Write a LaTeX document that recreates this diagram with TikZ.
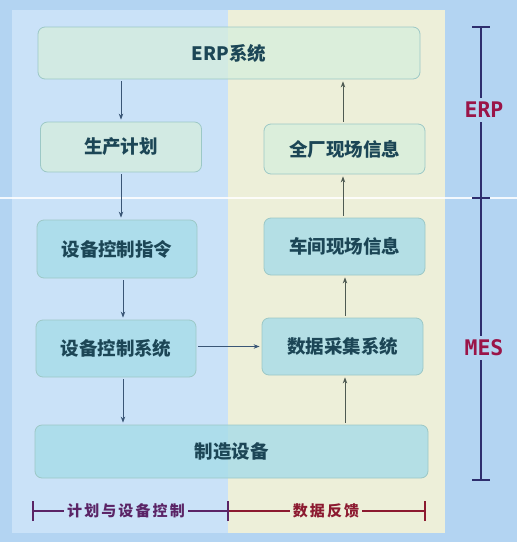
\documentclass[tikz,border=0pt]{standalone}
\usepackage{fontspec}
\newfontfamily\cjk{Noto Sans CJK SC}
\newfontfamily\cjkl{Noto Sans CJK SC}[LetterSpace=14]
\newfontfamily\monob{DejaVu Sans Mono}
\usetikzlibrary{arrows.meta}
\definecolor{outerbg}{HTML}{B3D4F2}
\definecolor{leftbg}{HTML}{CAE2F8}
\definecolor{rightbg}{HTML}{EDEFD9}
\definecolor{topfill}{HTML}{D6EEDC}
\definecolor{lowfill}{HTML}{A6DCE8}
\definecolor{boxline}{HTML}{9CC8C6}
\definecolor{boxtext}{HTML}{1C4656}
\definecolor{arrl}{HTML}{3A5676}
\definecolor{arrr}{HTML}{4E5A52}
\definecolor{navy}{HTML}{2E2E6E}
\definecolor{magred}{HTML}{9A1448}
\definecolor{purp}{HTML}{5A2466}
\definecolor{dred}{HTML}{8C1A30}
\begin{document}
\begin{tikzpicture}[x=1pt,y=-1pt,
  basebox/.style={draw=boxline, line width=0.8pt, rounded corners=7pt, text=boxtext,
    font=\cjk\bfseries\fontsize{18.5}{22}\selectfont, inner sep=0pt},
  topbox/.style={basebox, fill=topfill, fill opacity=0.75, text opacity=1},
  lowbox/.style={basebox, fill=lowfill, fill opacity=0.8, text opacity=1},
  arl/.style={draw=arrl, line width=0.9pt, -{Stealth[length=6pt,width=4.5pt]}, shorten <=2pt, shorten >=2pt},
  arr/.style={draw=arrr, line width=0.9pt, -{Stealth[length=6pt,width=4.5pt]}, shorten <=2pt, shorten >=2pt},
  sidelbl/.style={text=magred, font=\monob\bfseries\fontsize{21.5}{24}\selectfont, inner sep=4pt},
  botlbl/.style={font=\cjkl\bfseries\fontsize{15}{18}\selectfont, inner sep=3pt},
  navyline/.style={draw=navy, line width=1.2pt}
]
\useasboundingbox (0,0) rectangle (517,542);
% backgrounds
\fill[outerbg] (0,0) rectangle (517,542);
\fill[leftbg] (12,10) rectangle (228,533);
\fill[rightbg] (228,10) rectangle (445,533);
\draw[white, line width=1.4pt, opacity=0.85] (0,198) -- (517,198);

% boxes
\node[topbox, minimum width=382pt, minimum height=52pt] (erp) at (229,53) {ERP系统};
\node[topbox, minimum width=161pt, minimum height=50pt] (plan) at (121,147) {生产计划};
\node[topbox, minimum width=161pt, minimum height=50pt] (plant) at (344.5,149) {全厂现场信息};
\node[lowbox, minimum width=160pt, minimum height=58pt] (instr) at (117,249) {设备控制指令};
\node[lowbox, minimum width=161pt, minimum height=57pt] (shop) at (344.5,246.5) {车间现场信息};
\node[lowbox, minimum width=160pt, minimum height=57pt] (ctrl) at (116,348.5) {设备控制系统};
\node[lowbox, minimum width=161pt, minimum height=57pt] (daq) at (342.5,346.5) {数据采集系统};
\node[lowbox, minimum width=393pt, minimum height=53pt] (mfg) at (231.5,451.5) {制造设备};

% left arrows
\draw[arl] (erp.south -| plan.center) -- (plan.north);
\draw[arl] (plan.south) -- (plan.south |- instr.north);
\coordinate (lx) at (123,0);
\draw[arl] (instr.south -| lx) -- (ctrl.north -| lx);
\draw[arl] (ctrl.south -| lx) -- (mfg.north -| lx);
\draw[arl] ([yshift=2pt]ctrl.east) -- ([yshift=2pt]ctrl.east -| daq.west);
% right arrows
\coordinate (rx) at (345,0);
\coordinate (rx2) at (343,0);
\draw[arr] (mfg.north -| rx) -- (daq.south -| rx);
\draw[arr] (daq.north -| rx) -- (shop.south -| rx);
\draw[arr] (shop.north -| rx2) -- (plant.south -| rx2);
\draw[arr] (plant.north -| rx2) -- (erp.south -| rx2);

% right-hand bracket
\coordinate (t1) at (481,27);
\coordinate (t2) at (481,198);
\coordinate (t3) at (481,480);
\node[sidelbl] (erpl) at (484,110) {ERP};
\node[sidelbl] (mesl) at (484,348) {MES};
\draw[navyline] (t1) -- (erpl.north -| t1);
\draw[navyline] (erpl.south -| t1) -- (t2) -- (mesl.north -| t1);
\draw[navyline] (mesl.south -| t1) -- (t3);
\draw[navyline] ([xshift=-9pt]t1) -- ([xshift=9pt]t1);
\draw[navyline] ([xshift=-9pt]t2) -- ([xshift=9pt]t2);
\draw[navyline] ([xshift=-9pt]t3) -- ([xshift=9pt]t3);

% bottom bracket
\coordinate (b1) at (33,511);
\coordinate (b2) at (228,511);
\coordinate (b3) at (425,511);
\node[botlbl, text=purp] (bl1) at (126,511) {计划与设备控制};
\node[botlbl, text=dred] (bl2) at (326,511) {数据反馈};
\draw[draw=purp, line width=1.2pt] (b1) -- (bl1.west);
\draw[draw=purp, line width=1.2pt] (bl1.east) -- (b2);
\draw[draw=dred, line width=1.2pt] (b2) -- (bl2.west);
\draw[draw=dred, line width=1.2pt] (bl2.east) -- (b3);
\draw[draw=purp, line width=1.2pt] ([yshift=-10pt]b1) -- ([yshift=10pt]b1);
\draw[draw=purp, line width=1.2pt] ([yshift=-10pt]b2) -- ([yshift=10pt]b2);
\draw[draw=dred, line width=1.2pt] ([yshift=-10pt]b3) -- ([yshift=10pt]b3);
\end{tikzpicture}
\end{document}
